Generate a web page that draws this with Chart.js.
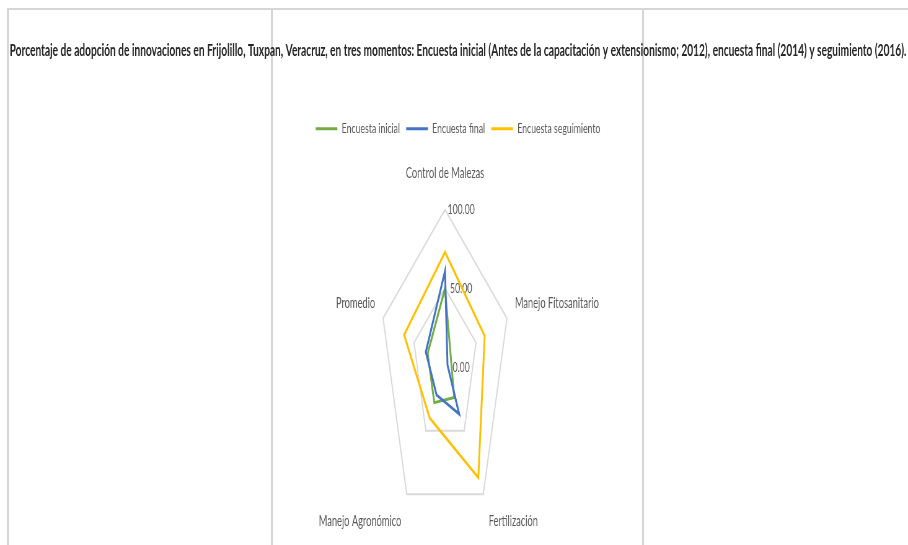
<!DOCTYPE html>
<html lang="es">
<head>
<meta charset="utf-8">
<title>Adopción de innovaciones en Frijolillo</title>
<script src="https://cdn.jsdelivr.net/npm/chart.js@4.4.1/dist/chart.umd.min.js"></script>
<style>
  html, body { margin: 0; padding: 0; background: #fff; overflow: hidden; }
  #sheet { position: relative; width: 908px; height: 545px; overflow: hidden; }
  .cell-line { position: absolute; background: #d6d6d6; }
  #chart { position: absolute; left: 0; top: 0; }
</style>
</head>
<body>
<div id="sheet">
  <!-- spreadsheet cell borders behind the chart -->
  <div class="cell-line" style="left:7px; top:8px; width:901px; height:2px;"></div>
  <div class="cell-line" style="left:7px; top:8px; width:2px; height:537px;"></div>
  <div class="cell-line" style="left:271px; top:8px; width:2px; height:537px;"></div>
  <div class="cell-line" style="left:642px; top:8px; width:2px; height:537px;"></div>
  <!-- drawn wide and shown at 908px, so all text comes out condensed like the original;
       a few rows taller than the window, the picture is cut at the bottom -->
  <canvas id="chart" width="1465" height="554" style="width:908px; height:554px;"></canvas>
</div>
<script>
const titleText = 'Porcentaje de adopción de innovaciones en Frijolillo, Tuxpan, Veracruz, en tres momentos: Encuesta inicial (Antes de la capacitación y extensionismo; 2012), encuesta final (2014) y seguimiento (2016).';
const categories = ['Control de Malezas', 'Manejo Fitosanitario', 'Fertilización', 'Manejo Agronómico', 'Promedio'];
const seriesNames = ['Encuesta inicial', 'Encuesta final', 'Encuesta seguimiento'];
const encuestaInicial = [50, 10, 24, 28, 28];
const encuestaFinal = [61, 4, 37, 22, 31];
const encuestaSeguimiento = [73, 64, 87, 40, 66];
const tickValues = [0, 50, 100];

document.addEventListener('DOMContentLoaded', function () {
    const RADAR_SQUEEZE = 0.668; // the web is squeezed sideways much more than the text
    const RADAR_SHIFT = -21;     // web sits a little left of the page centre
    const TICK_SHIFT = 26;       // tick labels sit to the right of the axis

    // radial scale whose polygons are narrower than they are tall
    class SqueezedRadialScale extends Chart.RadialLinearScale {
        static id = 'squeezedRadial';

        setCenterPoint(l, r, t, b) {
            super.setCenterPoint(l, r, t, b);
            this.xCenter += RADAR_SHIFT;
        }

        getPointPosition(index, distance, additionalAngle = 0) {
            const p = super.getPointPosition(index, distance, additionalAngle);
            p.x = this.xCenter + (p.x - this.xCenter) * RADAR_SQUEEZE;
            return p;
        }

        drawLabels() {
            const lowest = this.min;
            this.ctx.save();
            this.ctx.translate(TICK_SHIFT, 0);
            this.min = lowest - 1e-9; // otherwise the 0.00 label at the centre is skipped
            super.drawLabels();
            this.min = lowest;
            this.ctx.restore();
        }
    }
    Chart.register(SqueezedRadialScale);

    Chart.defaults.font.family = 'Lato, "Liberation Sans", sans-serif';
    Chart.defaults.color = '#595959';

    const colors = ['#70AD47', '#4472C4', '#FFC000'];
    const values = [encuestaInicial, encuestaFinal, encuestaSeguimiento];

    const datasets = seriesNames.map(function (name, i) {
        return {
            label: name,
            data: values[i],
            borderColor: colors[i],
            backgroundColor: colors[i],
            borderWidth: 3,
            fill: false,
            pointRadius: 0,
            pointHoverRadius: 0,
            order: seriesNames.length - i // later series on top, like Excel
        };
    });

    new Chart(document.getElementById('chart'), {
        type: 'radar',
        data: { labels: categories, datasets: datasets },
        options: {
            responsive: false,
            animation: false,
            devicePixelRatio: 1,
            layout: { padding: { left: 13, right: 0, top: 0, bottom: 0 } },
            plugins: {
                title: {
                    display: true,
                    text: titleText,
                    color: '#262626',
                    font: { size: 16.4, weight: 'bold' },
                    padding: { top: 41, bottom: 51 }
                },
                legend: {
                    position: 'top',
                    labels: {
                        usePointStyle: true,
                        pointStyle: 'line',
                        pointStyleWidth: 35,
                        font: { size: 14 },
                        color: '#595959',
                        padding: 10,
                        sort: (a, b) => a.datasetIndex - b.datasetIndex
                    }
                },
                tooltip: { enabled: false }
            },
            scales: {
                r: {
                    type: 'squeezedRadial',
                    min: tickValues[0],
                    max: tickValues[tickValues.length - 1],
                    angleLines: { display: false },
                    grid: { color: '#d9d9d9', lineWidth: 2 },
                    pointLabels: {
                        font: { size: 15 },
                        color: '#595959',
                        padding: (ctx) => [19, 11, 13, 13, 11][ctx.index]
                    },
                    ticks: {
                        stepSize: tickValues[1] - tickValues[0],
                        font: { size: 14 },
                        color: '#595959',
                        showLabelBackdrop: false,
                        callback: (v) => v.toFixed(2)
                    }
                }
            }
        }
    });
});
</script>
</body>
</html>
